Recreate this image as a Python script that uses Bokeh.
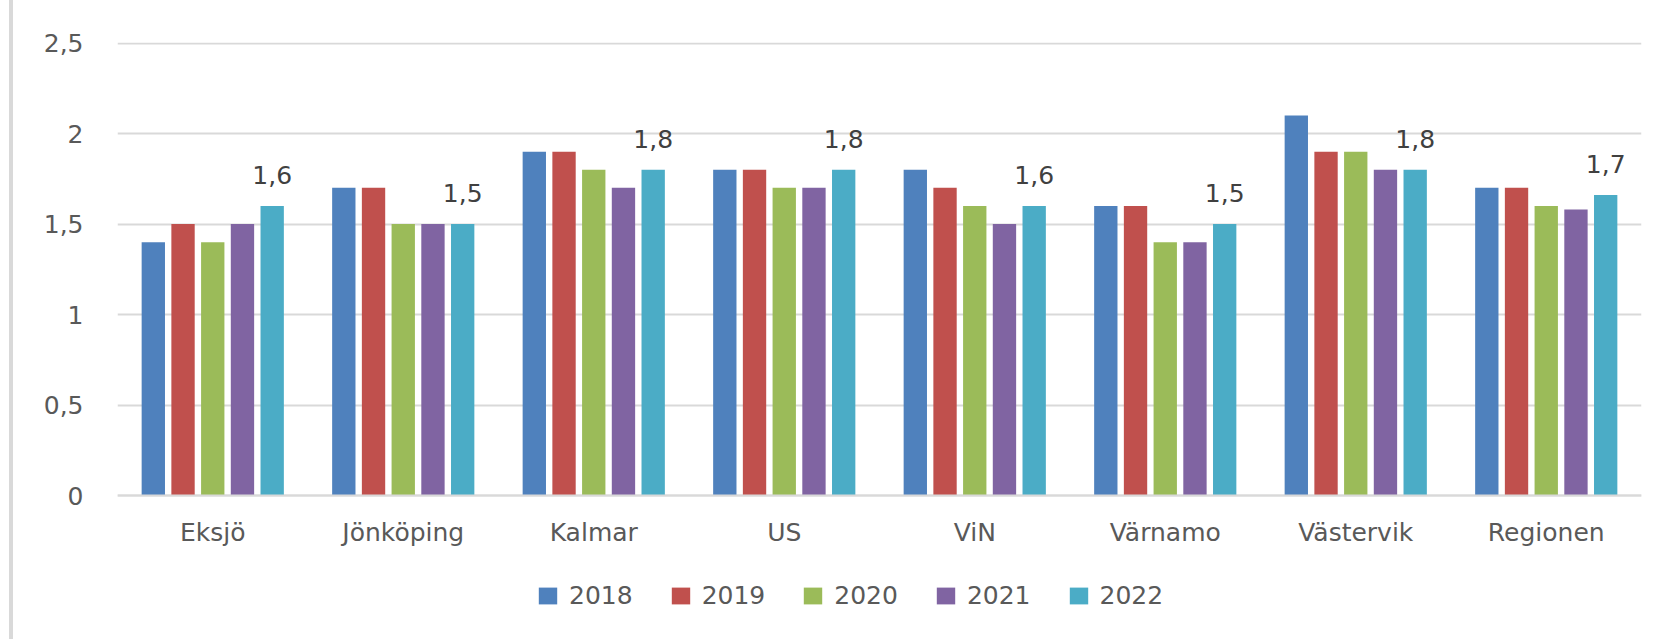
from bokeh.plotting import figure
from bokeh.models import (ColumnDataSource, FactorRange, Range1d, LabelSet, Legend, LegendItem,
                          CustomJSTickFormatter, FixedTicker)
from bokeh.transform import dodge
from bokeh.core.properties import value
from bokeh.embed import file_html
from bokeh.resources import INLINE

categories = ["Eksjö", "Jönköping", "Kalmar", "US", "ViN", "Värnamo", "Västervik", "Regionen"]
years = ["2018", "2019", "2020", "2021", "2022"]
v2018 = [1.4, 1.7, 1.9, 1.8, 1.8, 1.6, 2.1, 1.7]
v2019 = [1.5, 1.7, 1.9, 1.8, 1.7, 1.6, 1.9, 1.7]
v2020 = [1.4, 1.5, 1.8, 1.7, 1.6, 1.4, 1.9, 1.6]
v2021 = [1.5, 1.5, 1.7, 1.7, 1.5, 1.4, 1.8, 1.58]
v2022 = [1.6, 1.5, 1.8, 1.8, 1.6, 1.5, 1.8, 1.66]
labels2022 = ["1,6", "1,5", "1,8", "1,8", "1,6", "1,5", "1,8", "1,7"]
y_ticks = [0, 0.5, 1, 1.5, 2, 2.5]
colors = ["#4F81BD", "#C0504D", "#9BBB59", "#8064A2", "#4BACC6"]

FONT = "DejaVu Sans"
TXT = "#595959"

# layout geometry (pixels)
TOP, BOTTOM = 42, 10
FRAME_H = 639 - TOP - BOTTOM          # frame spans page y 42..629
PX_PER_UNIT = 181.0                   # vertical scale of the value axis
Y_END = 2.503
Y_START = Y_END - FRAME_H / PX_PER_UNIT

source = ColumnDataSource(dict(cat=categories, v2018=v2018, v2019=v2019, v2020=v2020,
                               v2021=v2021, v2022=v2022, lab=labels2022))

p = figure(width=1674, height=639, x_range=FactorRange(*categories, range_padding=0),
           y_range=Range1d(Y_START, Y_END), output_backend="svg", toolbar_location=None,
           min_border_left=117, min_border_right=33, min_border_top=TOP,
           min_border_bottom=BOTTOM)
p.outline_line_color = None
p.background_fill_color = "white"
p.border_fill_color = None
p.styles = {"background-image": "linear-gradient(90deg, rgba(255,255,255,0) 9px, #d9d9d9 9px, "
                                "#d9d9d9 13px, rgba(255,255,255,0) 13px)"}

offsets = [-0.312, -0.156, 0.0, 0.156, 0.312]
renderers = []
for yr, off, col in zip(years, offsets, colors):
    r = p.vbar(x=dodge("cat", off, range=p.x_range), top="v" + yr, bottom=0, width=0.1225,
               source=source, fill_color=col, line_color=None)
    renderers.append(r)

labels = LabelSet(x=dodge("cat", offsets[-1], range=p.x_range), y="v2022", text="lab",
                  source=source, text_align="center", text_baseline="alphabetic",
                  y_offset=22, text_font_size="25px", text_color="#404040",
                  text_font=value(FONT))
p.add_layout(labels)

p.xgrid.visible = False
p.ygrid.grid_line_color = "#d9d9d9"
p.ygrid.grid_line_width = 2

p.yaxis.ticker = FixedTicker(ticks=y_ticks)
p.yaxis.formatter = CustomJSTickFormatter(code="return tick.toString().replace('.', ',');")
p.yaxis.axis_line_color = None
p.yaxis.major_tick_line_color = None
p.yaxis.minor_tick_line_color = None
p.yaxis.major_tick_out = 0
p.yaxis.major_label_standoff = 34
p.yaxis.major_label_text_font = FONT
p.yaxis.major_label_text_font_size = "25px"
p.yaxis.major_label_text_color = TXT

p.xaxis.fixed_location = 0
p.xaxis.axis_line_color = "#d9d9d9"
p.xaxis.axis_line_width = 2
p.xaxis.major_tick_line_color = None
p.xaxis.major_tick_out = 0
p.xaxis.major_label_standoff = 22
p.xaxis.major_label_text_font = FONT
p.xaxis.major_label_text_font_size = "25px"
p.xaxis.major_label_text_color = TXT

legend = Legend(items=[LegendItem(label=yr, renderers=[r]) for yr, r in zip(years, renderers)],
                orientation="horizontal", location=(419, 19), padding=0, margin=0,
                spacing=36, glyph_width=23, glyph_height=21, label_standoff=10,
                label_text_font=FONT, label_text_font_size="25px", label_text_color=TXT,
                border_line_color=None, background_fill_alpha=0)
p.add_layout(legend)

open("out.html", "w").write(file_html(p, INLINE))
